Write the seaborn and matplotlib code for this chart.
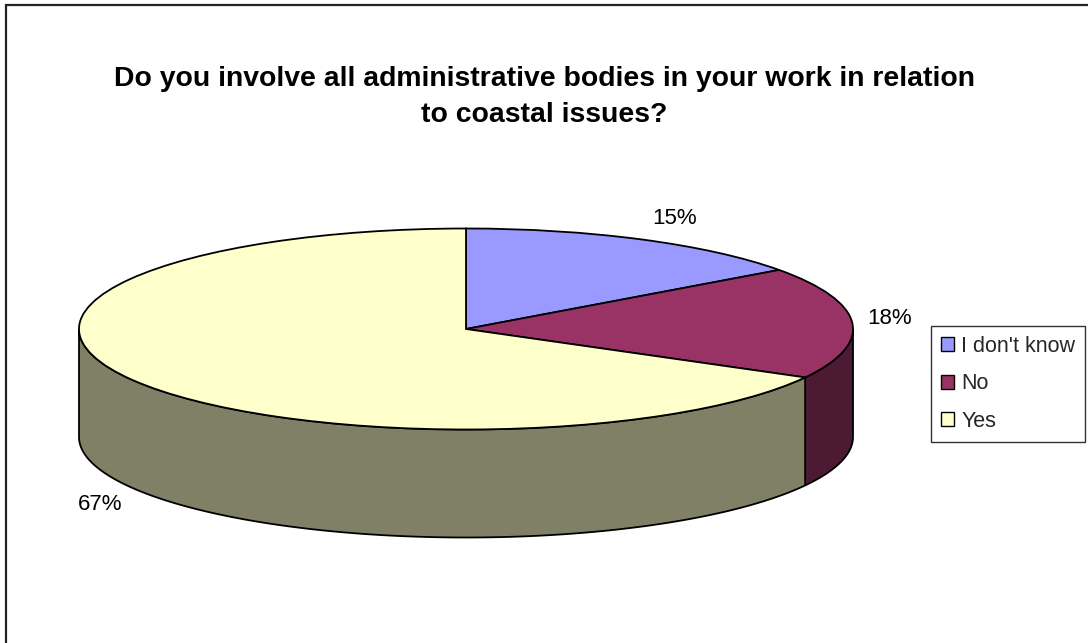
import numpy as np
import matplotlib
matplotlib.use("Agg")
import matplotlib.pyplot as plt
from matplotlib.patches import Polygon, Rectangle
import seaborn as sns

# Survey answers
categories = ["I don't know", "No", "Yes"]
shares = [15, 18, 67]
top_colors = ["#9999FF", "#993366", "#FFFFCC"]
side_colors = ["#4D4D80", "#4D1A33", "#808066"]
title = "Do you involve all administrative bodies in your work in relation\nto coastal issues?"

sns.set_theme(style="white")
plt.rcParams["font.family"] = ["Liberation Sans", "DejaVu Sans"]

W, H, DPI = 1088, 643, 100
fig = plt.figure(figsize=(W / DPI, H / DPI), dpi=DPI)
ax = fig.add_axes([0, 0, 1, 1])

# ellipse geometry in pixels: centre, radii and wall depth
cx, cy, rx, ry, depth_px = 466, 329, 387, 100.5, 108
depth = depth_px / ry

wedges, _ = ax.pie(shares, colors=top_colors, startangle=90, counterclock=False,
                   radius=1, center=(0, 0),
                   wedgeprops=dict(edgecolor="black", linewidth=1.3, zorder=5))
ax.set_aspect("auto")
ax.set_xlim(-cx / rx, (W - cx) / rx)
ax.set_ylim(-(H - cy) / ry, cy / ry)
ax.axis("off")

# front walls of the cylinder (visible for angles between 180 and 360 degrees)
for w, sc in zip(wedges, side_colors):
    t1, t2 = w.theta1, w.theta2
    for lo, hi in [(-180, 0), (180, 360)]:
        a, b = max(t1, lo), min(t2, hi)
        if b <= a:
            continue
        t = np.radians(np.linspace(a, b, 200))
        top = np.column_stack([np.cos(t), np.sin(t)])
        bot = np.column_stack([np.cos(t[::-1]), np.sin(t[::-1]) - depth])
        ax.add_patch(Polygon(np.vstack([top, bot]), closed=True, facecolor=sc,
                             edgecolor="black", linewidth=1.3, zorder=3))

# percentage labels placed around the rim (pixel positions converted to data units)
label_px = [(675, 218), (890, 319), (100, 505)]
for (px, py), v in zip(label_px, shares):
    ax.text((px - cx) / rx, (cy - py) / ry, f"{v}%", ha="center", va="center",
            fontsize=16, color="black", zorder=6)

fig.text(0.5, 1 - 97 / H, title, ha="center", va="center", fontsize=20.4,
         fontweight="bold", linespacing=1.45, color="black")

leg = fig.legend(wedges, categories, loc="upper left",
                 bbox_to_anchor=(931 / W, 1 - 326 / H), frameon=True, fancybox=False,
                 fontsize=15.5, handlelength=0.6, handleheight=0.6, handletextpad=0.36,
                 labelspacing=0.77, borderpad=0.45, borderaxespad=0)
leg.get_frame().set_edgecolor("black")
leg.get_frame().set_linewidth(1.0)
for h in leg.legend_handles:
    h.set_linewidth(1.0)

# outer chart border
fig.patches.append(Rectangle((6 / W, -0.05), 1.1, 1 - 5 / H + 0.05,
                             transform=fig.transFigure, fill=False,
                             edgecolor="#222222", linewidth=1.6))

fig.savefig("out.png", dpi=DPI, facecolor="white")
